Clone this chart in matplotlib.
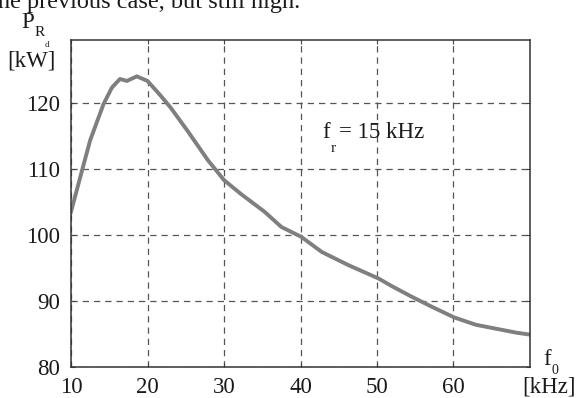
import matplotlib
matplotlib.use("Agg")
import matplotlib.pyplot as plt

# curve: f0 [kHz] -> P_Rd [kW]
f0 = [10.0, 11.2, 12.5, 14.25, 15.35, 16.4, 17.3, 18.6, 20.0, 21.7, 23.0, 25.2,
      27.9, 30.0, 32.2, 35.3, 37.5, 40.1, 42.8, 46.3, 50.2, 52.0, 54.6, 57.2,
      60.1, 62.9, 65.1, 68.2, 70.0]
p_rd = [103.5, 108.7, 114.3, 119.8, 122.3, 123.6, 123.3, 124.0, 123.3, 121.1,
        119.3, 115.8, 111.3, 108.3, 106.2, 103.5, 101.2, 99.7, 97.4, 95.4, 93.4,
        92.2, 90.6, 89.1, 87.5, 86.4, 85.9, 85.2, 84.9]

x_ticks = [10, 20, 30, 40, 50, 60]
y_ticks = [80, 90, 100, 110, 120]

plt.rcParams['font.family'] = ['Liberation Serif', 'DejaVu Serif']
W, H = 577, 398
fig = plt.figure(figsize=(W / 100, H / 100), dpi=100)
ax = fig.add_axes([71 / W, 1 - 367 / H, (530 - 71) / W, (367 - 40) / H])

def px(x, y):
    return x / W, 1 - y / H

txt = '#1a1a1a'
fs = 16.5
ax.plot(f0, p_rd, color='#7f7f7f', linewidth=2.8, solid_joinstyle='round')

ax.set_xlim(10, 70)
ax.set_ylim(80, 129.5)
ax.set_xticks(x_ticks)
ax.set_yticks(y_ticks)
ax.grid(True, color='#555555', linestyle=(0, (5, 4)), linewidth=0.9)
ax.tick_params(direction='in', length=3, width=0.8, colors='#444444',
               labelsize=fs, labelcolor=txt, top=True, right=True)
ax.tick_params(axis='x', pad=7)
ax.tick_params(axis='y', pad=8)
for s in ax.spines.values():
    s.set_color('#333333')
    s.set_linewidth(1.1)

# axis labels
fig.text(*px(21, 28), 'P', fontsize=fs, color=txt, va='baseline')
fig.text(*px(35, 36), 'R', fontsize=11, color=txt, va='baseline')
fig.text(*px(45, 47), 'd', fontsize=6.5, color=txt, va='baseline')
fig.text(*px(7, 66), '[kW]', fontsize=fs, color=txt, va='baseline')
fig.text(*px(543, 365), 'f', fontsize=fs, color=txt, va='baseline')
fig.text(*px(551, 374), '0', fontsize=10, color=txt, va='baseline')
fig.text(*px(549, 393), '[kHz]', fontsize=fs, color=txt, va='baseline', ha='center')

# annotation
fig.text(*px(322, 138), 'f', fontsize=fs, color=txt, va='baseline')
fig.text(*px(331, 152), 'r', fontsize=11, color=txt, va='baseline')
fig.text(*px(339, 138), '= 15 kHz', fontsize=fs, color=txt, va='baseline')

# page text cut off at the top
fig.text(*px(-9, 8), 'the previous case, but still high.', fontsize=17.5,
         color=txt, va='baseline')

fig.savefig('out.png', dpi=100)
